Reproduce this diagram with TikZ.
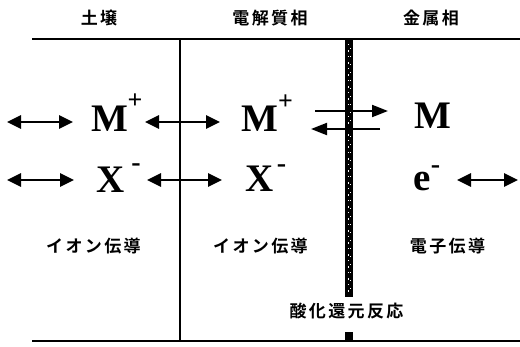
\documentclass[tikz,border=0pt]{standalone}
\usepackage{fontspec}
\setmainfont{Liberation Serif}
\newfontfamily\jp{Noto Sans CJK JP Bold}[LetterSpace=14]
\usetikzlibrary{arrows.meta}
\begin{document}
\begin{tikzpicture}[x=1pt,y=-1pt,
  tip/.tip={Triangle[length=14pt,width=13pt]},
  dbl/.style={line width=2.6pt,{tip}-{tip}},
  sgl/.style={line width=2pt,-{Triangle[length=16pt,width=12pt]}},
  sym/.style={font=\fontsize{39}{39}\selectfont\bfseries,inner sep=0pt},
  sup/.style={font=\fontsize{26}{26}\selectfont\bfseries,inner sep=0pt},
  sub/.style={font=\fontsize{28}{28}\selectfont\bfseries,inner sep=0pt},
  jl/.style={font=\jp\fontsize{17}{17}\selectfont,inner sep=0pt},
  frame/.style={line width=1.8pt}]
\useasboundingbox (0,0) rectangle (520,346);
% frame lines
\coordinate (tl) at (32,39); \coordinate (tr) at (520,39);
\coordinate (bl) at (32,341); \coordinate (br) at (520,341);
\draw[frame] (tl) -- (tr);
\draw[frame] (bl) -- (br);
\coordinate (vt) at (180,39); \coordinate (vb) at (180,341);
\draw[line width=1.3pt] (vt) -- (vb);
% thick interface bar
\fill (345,39) rectangle (353,297);
\fill (345,332) rectangle (353,341);
\draw[white,line width=0.5pt,dash pattern=on 1pt off 5pt on 2pt off 4pt] (348.5,44) -- (348.5,292);
\draw[white,line width=0.4pt,dash pattern=on 1pt off 7pt] (350.5,48) -- (350.5,290);
% titles
\node[jl] (t1) at (99,18) {土壌};
\node[jl] (t2) at (270,18) {電解質相};
\node[jl] (t3) at (431,18) {金属相};
% species
\node[sym] (m1) at (109.5,119) {M};
\node[sym] (m2) at (259.5,119) {M};
\node[sym] (m3) at (432.5,115.5) {M};
\node[sym] (x1) at (110.5,179.5) {X};
\node[sym] (x2) at (260,178.5) {X};
\node[sym] (e1) at (422,182) {e};
\node[sup] (s1) at (135,101) {+};
\node[sup] (s2) at (285.5,102) {+};
\node[sub] (s3) at (136,168) {-};
\node[sub] (s4) at (281.5,169) {-};
\node[sub] (s5) at (435.5,169.5) {-};
% arrow anchors
\coordinate (a1) at (7,122);  \coordinate (a2) at (73,122);
\coordinate (a3) at (145,122); \coordinate (a4) at (220,122);
\coordinate (b1) at (7,180);  \coordinate (b2) at (74,180);
\coordinate (b3) at (147,180); \coordinate (b4) at (222,180);
\coordinate (c1) at (457,180); \coordinate (c2) at (518,180);
\draw[dbl] (a1) -- (a2);
\draw[dbl] (a3) -- (a4);
\draw[dbl] (b1) -- (b2);
\draw[dbl] (b3) -- (b4);
\draw[dbl] (c1) -- (c2);
% reaction arrows
\coordinate (r1) at (315,111); \coordinate (r2) at (388,111);
\coordinate (r3) at (380,129); \coordinate (r4) at (311,129);
\draw[sgl] (r1) -- (r2);
\draw[sgl] (r3) -- (r4);
% bottom labels
\node[jl] (l1) at (93.5,246) {イオン伝導};
\node[jl] (l2) at (260.5,246) {イオン伝導};
\node[jl] (l3) at (447.5,246) {電子伝導};
\node[jl] (l4) at (346.5,311) {酸化還元反応};
\end{tikzpicture}
\end{document}
